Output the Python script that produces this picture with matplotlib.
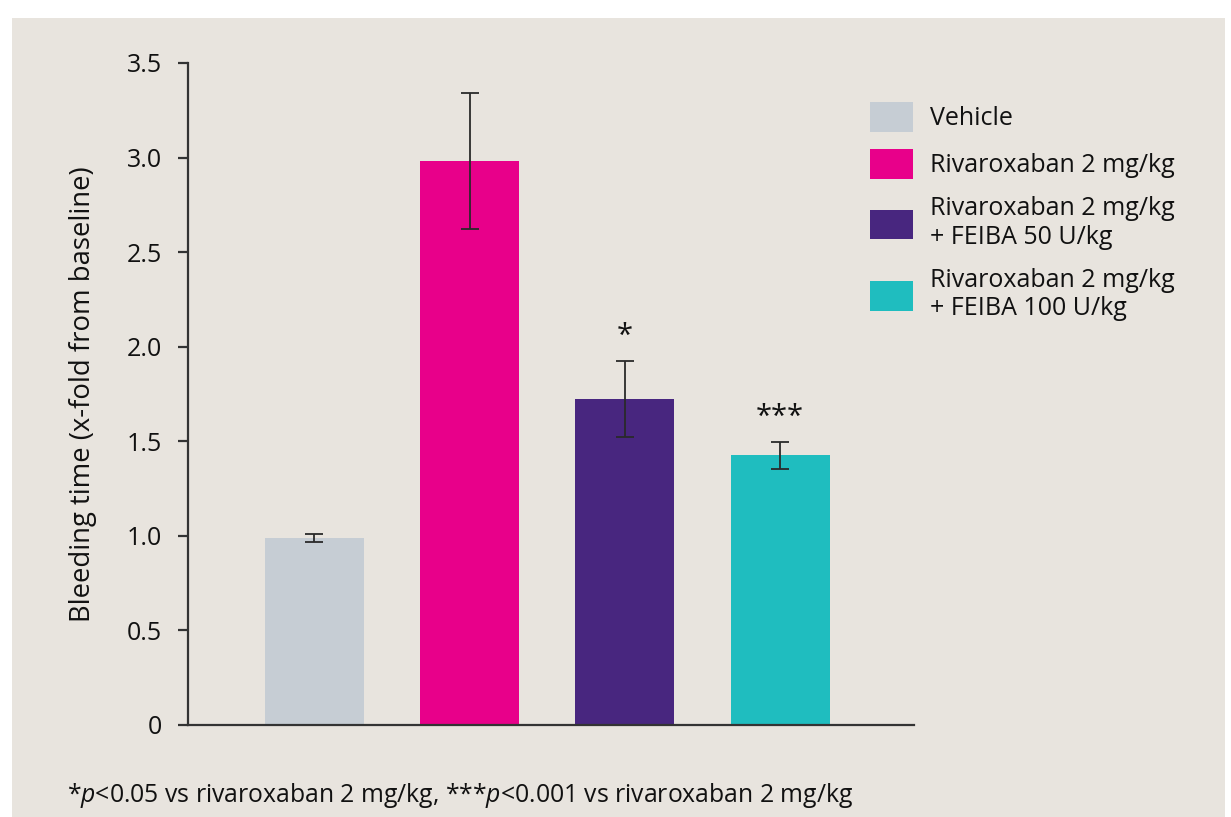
import numpy as np
import matplotlib.pyplot as plt
from matplotlib.patches import Rectangle

plt.rcParams['font.family'] = ['Open Sans', 'DejaVu Sans']
plt.rcParams['mathtext.fontset'] = 'custom'
plt.rcParams['mathtext.it'] = 'Open Sans:italic'
plt.rcParams['mathtext.rm'] = 'Open Sans'

groups = ['Vehicle', 'Rivaroxaban 2 mg/kg', 'Rivaroxaban 2 mg/kg\n+ FEIBA 50 U/kg',
          'Rivaroxaban 2 mg/kg\n+ FEIBA 100 U/kg']
means = [0.99, 2.98, 1.725, 1.425]
errors = [0.02, 0.36, 0.20, 0.072]
stars = ['', '', '*', '***']
colors = ['#c6cdd4', '#e8008a', '#48267f', '#1fbdbf']
yticks = [0, 0.5, 1.0, 1.5, 2.0, 2.5, 3.0, 3.5]
ytick_labels = ['0', '0.5', '1.0', '1.5', '2.0', '2.5', '3.0', '3.5']

bg = '#e8e4de'
fig = plt.figure(figsize=(12.31, 8.17), dpi=100)
fig.patch.set_facecolor('white')
fig.patches.append(Rectangle((12 / 1231, 0), (1225 - 12) / 1231, 1 - 18 / 817,
                             transform=fig.transFigure, facecolor=bg, edgecolor='none', zorder=-10))

ax = fig.add_axes([188 / 1231, 1 - 725 / 817, (914 - 188) / 1231, (725 - 63) / 817])
ax.set_facecolor('none')

x = np.arange(len(means))
bars = ax.bar(x, means, width=0.638, color=colors, zorder=2)
ax.errorbar(x, means, yerr=errors, fmt='none', ecolor='#2a2a2a', elinewidth=1.3,
            capsize=6.5, capthick=1.3, zorder=3)
for xi, m, e, s in zip(x, means, errors, stars):
    if s:
        ax.text(xi, m + e + 0.05, s, ha='center', va='bottom', fontsize=21, color='#111111')

ax.set_xlim(-0.815, 3.863)
ax.set_ylim(0, 3.5)
ax.set_yticks(yticks)
ax.set_yticklabels(ytick_labels)
ax.set_xticks([])
for side in ['top', 'right']:
    ax.spines[side].set_visible(False)
for side in ['left', 'bottom']:
    ax.spines[side].set_linewidth(1.6)
    ax.spines[side].set_color('#333333')
ax.tick_params(axis='y', direction='out', length=7, width=1.6, color='#333333',
               labelsize=18, pad=12, labelcolor='#111111')
ax.set_ylabel('Bleeding time (x-fold from baseline)', fontsize=19.8, color='#111111', labelpad=21)

leg = fig.legend(bars, groups, loc='upper left', bbox_to_anchor=(860 / 1231, 1 - 92 / 817),
                 frameon=False, fontsize=18, handlelength=1.7, handleheight=1.45,
                 handletextpad=0.72, labelspacing=0.7, borderaxespad=0)
for t in leg.get_texts():
    t.set_color('#111111')

fig.text(67 / 1231, 1 - 795 / 817,
         r'*$\it{p}$<0.05 vs rivaroxaban 2 mg/kg, ***$\it{p}$<0.001 vs rivaroxaban 2 mg/kg',
         fontsize=17.8, va='center', ha='left', color='#111111')

fig.savefig('out.png', dpi=100, facecolor=fig.get_facecolor())
